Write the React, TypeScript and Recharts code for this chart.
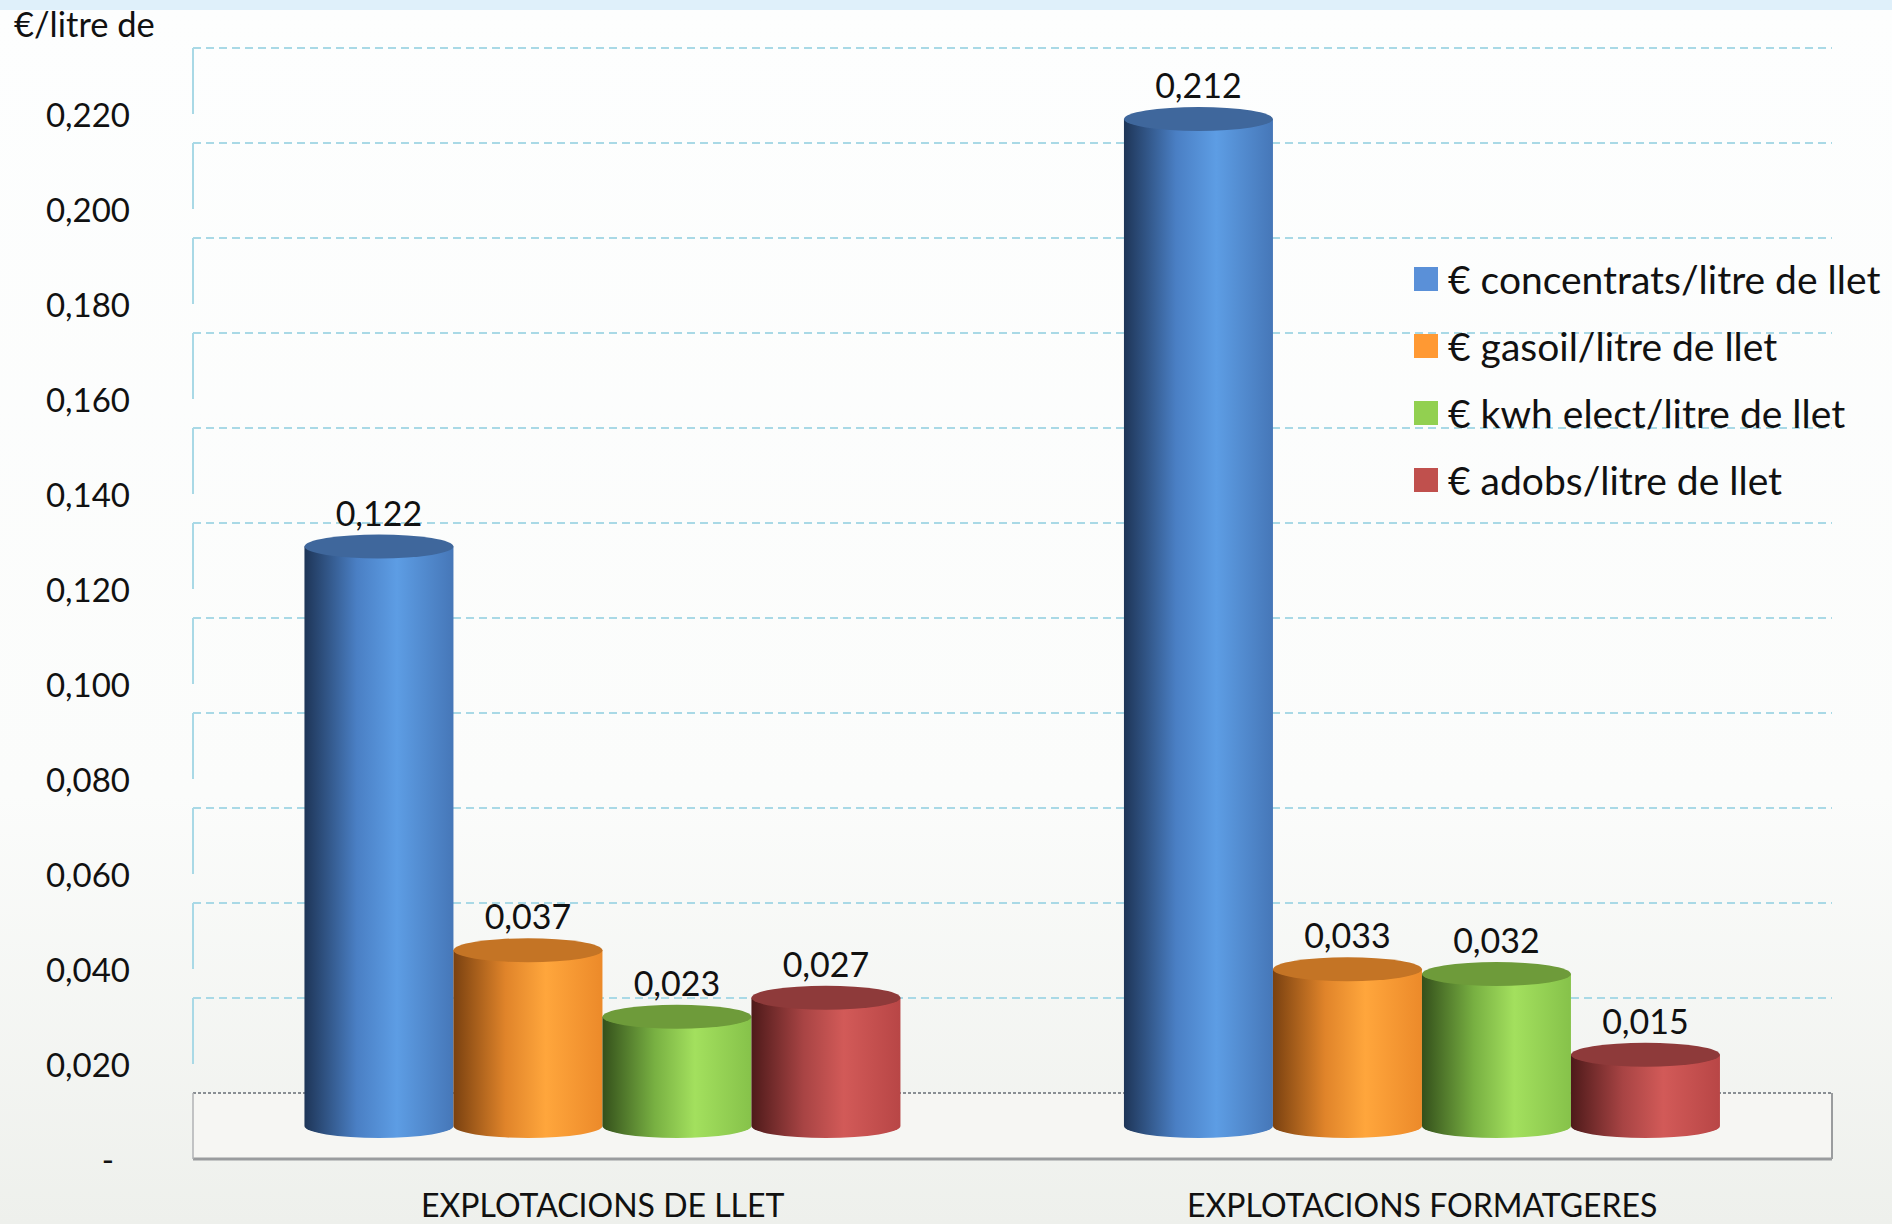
import React from "react";
import { BarChart, Bar, XAxis, YAxis, CartesianGrid, LabelList } from "recharts";

// chart values
const categories = ["EXPLOTACIONS DE LLET", "EXPLOTACIONS FORMATGERES"];
const concentrats = [0.122, 0.212];
const gasoil = [0.037, 0.033];
const kwhElect = [0.023, 0.032];
const adobs = [0.027, 0.015];
const seriesNames = [
  "€ concentrats/litre de llet",
  "€ gasoil/litre de llet",
  "€ kwh elect/litre de llet",
  "€ adobs/litre de llet",
];
const yTicks = [0, 0.02, 0.04, 0.06, 0.08, 0.1, 0.12, 0.14, 0.16, 0.18, 0.2, 0.22];
const yTitle = "€/litre de";

const seriesValues = [concentrats, gasoil, kwhElect, adobs];
const keys = ["s0", "s1", "s2", "s3"];

const data = categories.map((cat, i) => {
  const row: Record<string, string | number> = { cat };
  seriesValues.forEach((vals, s) => (row[keys[s]] = vals[i]));
  return row;
});

// cylinder shading: dark edge, highlight, right edge, top ellipse
const palette = [
  { legend: "#5a90d8", stops: ["#1e3557", "#4a7fc4", "#5d9de4", "#4677b8"], top: "#3f679c" },
  { legend: "#ff9933", stops: ["#7a4110", "#e0842a", "#ffa63c", "#ec8a2a"], top: "#c47425" },
  { legend: "#92d050", stops: ["#34501b", "#78b042", "#a3e05e", "#86c24a"], top: "#6e9b3a" },
  { legend: "#c0504d", stops: ["#4e1a1a", "#a84444", "#d25a58", "#b84646"], top: "#8e3a3a" },
];

const FONT = "Lato, 'Open Sans', sans-serif";
const GRID = "#a9d9e6";
const DEPTH = 33; // half-depth of the 3D box in px
const RY = 12;

const fmt = (v: number) => (v === 0 ? "-" : v.toFixed(3).replace(".", ","));

function Cylinder(props: any) {
  const { x, y, width, height, idx } = props;
  if (width == null || height == null) return null;
  const rx = width / 2;
  const cx = x + rx;
  const bottom = y + height;
  const d = `M${x},${y} L${x},${bottom} A${rx},${RY} 0 0 0 ${x + width},${bottom} L${x + width},${y} Z`;
  return (
    <g>
      <path d={d} fill={`url(#cyl${idx})`} />
      <ellipse cx={cx} cy={y} rx={rx} ry={RY} fill={palette[idx].top} />
    </g>
  );
}

function ValueLabel(props: any) {
  const { x, y, width, value } = props;
  return (
    <text x={x + width / 2} y={y - 21} textAnchor="middle" fontSize={34} fontFamily={FONT} fill="#111">
      {fmt(value)}
    </text>
  );
}

function GridLine(props: any) {
  const { x1, x2, y1 } = props;
  if (y1 > 1120) {
    // floor of the 3D box
    return (
      <g>
        <rect x={x1} y={y1 - DEPTH} width={x2 - x1} height={DEPTH * 2} fill="#f6f6f3" />
        <line x1={x1} x2={x2} y1={y1 - DEPTH} y2={y1 - DEPTH} stroke="#8a8f94" strokeWidth={2} strokeDasharray="3 2" />
        <line x1={x1} x2={x2} y1={y1 + DEPTH} y2={y1 + DEPTH} stroke="#9a9c9e" strokeWidth={3} />
        <line x1={x1} x2={x1} y1={y1 - DEPTH} y2={y1 + DEPTH} stroke="#b0b2b4" strokeWidth={1.5} />
        <line x1={x2} x2={x2} y1={y1 - DEPTH} y2={y1 + DEPTH} stroke="#9a9c9e" strokeWidth={2} />
      </g>
    );
  }
  return (
    <g>
      <line x1={x1} x2={x2} y1={y1 - DEPTH} y2={y1 - DEPTH} stroke={GRID} strokeWidth={2} strokeDasharray="8 5" />
      <line x1={x1} x2={x1} y1={y1 - DEPTH} y2={y1 + DEPTH} stroke={GRID} strokeWidth={2} />
    </g>
  );
}

function YTick(props: any) {
  const { y, payload } = props;
  const zero = payload.value === 0;
  return (
    <text
      x={zero ? 114 : 130}
      y={y + DEPTH}
      textAnchor="end"
      dominantBaseline="central"
      fontSize={33}
      fontFamily={FONT}
      fill="#111"
    >
      {fmt(payload.value)}
    </text>
  );
}

function XTick(props: any) {
  const { x, y, payload } = props;
  return (
    <text x={x} y={y + 78} textAnchor="middle" dominantBaseline="central" fontSize={32} fontFamily={FONT} fill="#111">
      {payload.value}
    </text>
  );
}

export default function App() {
  return (
    <div
      style={{
        position: "relative",
        width: 1892,
        height: 1224,
        fontFamily: FONT,
        background: "linear-gradient(#dff0fa 0, #dff0fa 10px, #fdfefe 10px, #fbfcfb 65%, #eef0ec 100%)",
      }}
    >
      <style>{`body{margin:0}`}</style>
      <div style={{ position: "absolute", left: 14, top: 3, fontSize: 34.5, color: "#111" }}>{yTitle}</div>
      <BarChart
        width={1892}
        height={1224}
        data={data}
        margin={{ top: 81, right: 60, bottom: 0, left: 0 }}
        barCategoryGap="13.6%"
        barGap={0}
      >
        <defs>
          {palette.map((p, i) => (
            <linearGradient key={i} id={`cyl${i}`} x1="0" y1="0" x2="1" y2="0">
              <stop offset="0%" stopColor={p.stops[0]} />
              <stop offset="35%" stopColor={p.stops[1]} />
              <stop offset="62%" stopColor={p.stops[2]} />
              <stop offset="100%" stopColor={p.stops[3]} />
            </linearGradient>
          ))}
        </defs>
        <CartesianGrid vertical={false} horizontal={GridLine} />
        <XAxis dataKey="cat" height={98} axisLine={false} tickLine={false} tickSize={0} tickMargin={0} tick={XTick} />
        <YAxis
          width={193}
          domain={[0, 0.22]}
          ticks={yTicks}
          interval={0}
          axisLine={false}
          tickLine={false}
          tick={YTick}
        />
        {keys.map((k, i) => (
          <Bar
            key={k}
            dataKey={k}
            name={seriesNames[i]}
            fill={palette[i].legend}
            isAnimationActive={false}
            shape={(p: any) => <Cylinder {...p} idx={i} />}
          >
            <LabelList dataKey={k} content={ValueLabel} />
          </Bar>
        ))}
      </BarChart>
      <div style={{ position: "absolute", left: 1414, top: 245 }}>
        {seriesNames.map((n, i) => (
          <div key={n} style={{ display: "flex", alignItems: "center", height: 67, fontSize: 39, color: "#111", whiteSpace: "nowrap" }}>
            <span style={{ width: 24, height: 24, background: palette[i].legend, marginRight: 10, display: "inline-block", flexShrink: 0 }} />
            {n}
          </div>
        ))}
      </div>
    </div>
  );
}
